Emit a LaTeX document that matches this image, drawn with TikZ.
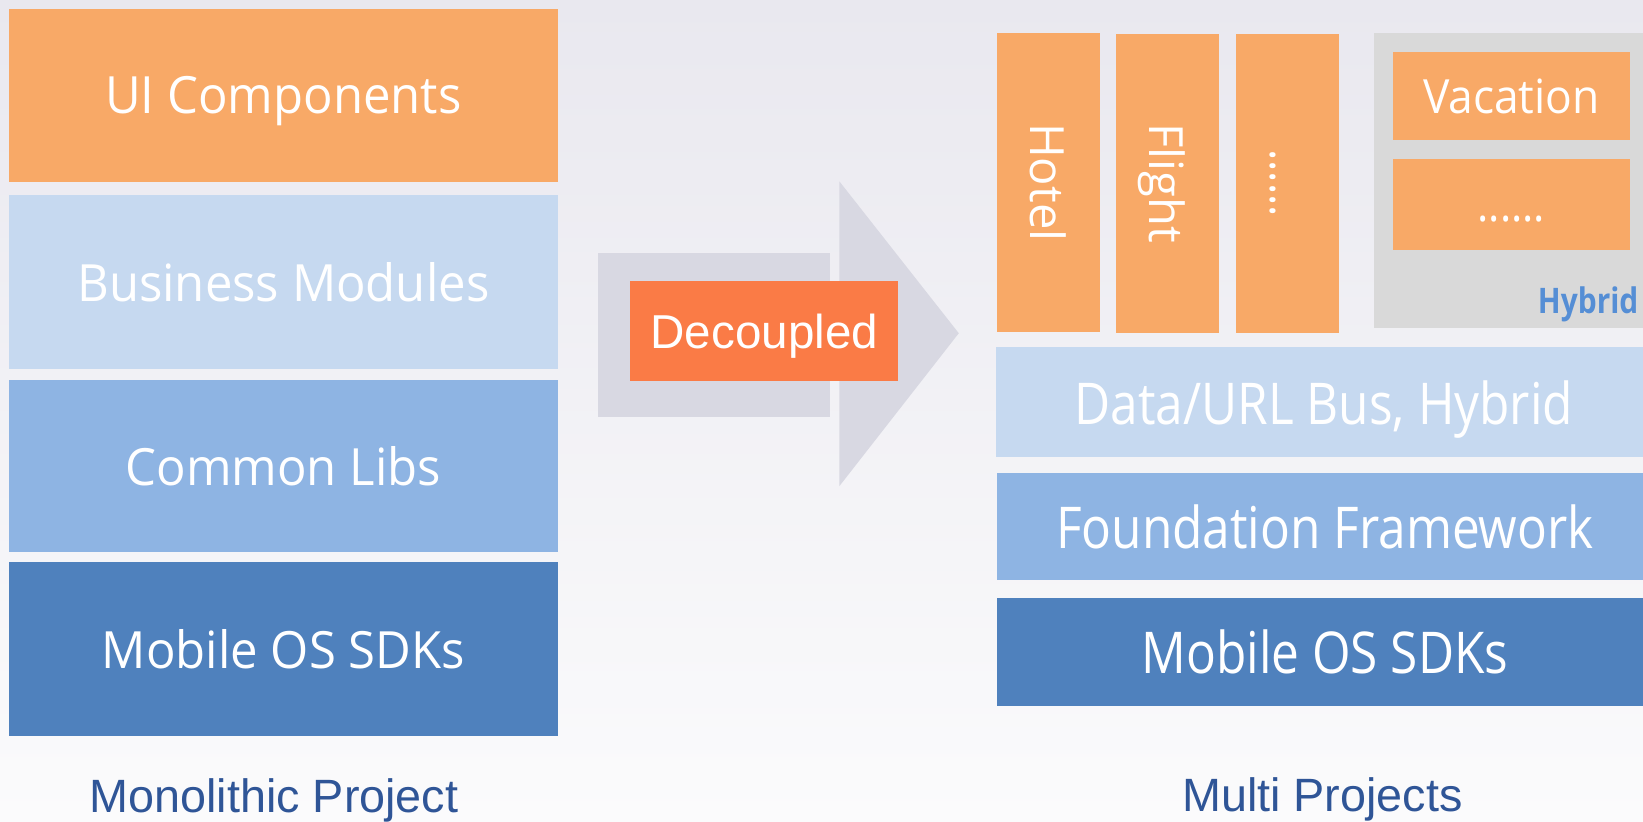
\documentclass[tikz,border=0pt]{standalone}
\usepackage{fontspec}
\setmainfont{Open Sans}
\newfontfamily\arialfont{Liberation Sans}
\usepackage{graphicx}
\definecolor{uiorange}{RGB}{248,169,103}
\definecolor{paleblue}{RGB}{198,217,240}
\definecolor{midblue}{RGB}{142,180,227}
\definecolor{deepblue}{RGB}{79,129,189}
\definecolor{arrowgray}{RGB}{216,216,226}
\definecolor{decorange}{RGB}{250,123,70}
\definecolor{hybridgray}{RGB}{217,217,217}
\definecolor{hybridblue}{RGB}{85,142,213}
\definecolor{titleblue}{RGB}{47,85,151}
\definecolor{bgtop}{RGB}{233,232,239}
\definecolor{bgbot}{RGB}{251,251,252}
\newcommand{\narrow}[2][0.86]{\scalebox{#1}[1]{#2}}

\begin{document}
\begin{tikzpicture}[x=0.5pt,y=-0.5pt,
    layer/.style={inner sep=0pt,text depth=0pt,anchor=north west,text=white,font=\fontsize{24.5}{28}\selectfont},
    wide/.style={layer,minimum width=262pt},
    stack/.style={layer,minimum width=313pt,font=\fontsize{27.5}{32}\selectfont},
    column/.style={layer,minimum width=49pt,minimum height=142.5pt,fill=uiorange},
    vtext/.style={rotate=-90,text=white,text depth=0pt,font=\fontsize{22.5}{26}\selectfont},
    tile/.style={layer,minimum width=113pt,fill=uiorange,font=\fontsize{22.5}{26}\selectfont},
    caption/.style={anchor=base,text=titleblue,font=\arialfont\fontsize{22.3}{26}\selectfont}]
    \useasboundingbox (0,0) rectangle (1568,784);
    \shade[top color=bgtop,bottom color=bgbot] (0,0) rectangle (1568,784);
    % monolithic
    \node[wide,fill=uiorange,minimum height=82.5pt] (ui) at (8,8) {\narrow[0.955]{UI Components}};
    \node[wide,fill=paleblue,minimum height=83pt] (biz) at (8,186) {\narrow[0.955]{Business Modules}};
    \node[wide,fill=midblue,minimum height=82pt] (libs) at (8,362) {\narrow[0.955]{Common Libs}};
    \node[wide,fill=deepblue,minimum height=83pt] (sdk) at (8,536) {\narrow[0.955]{Mobile OS SDKs}};
    \node[caption] (mono) at (261.5,775) {Monolithic Project};
    % arrow
    \fill[arrowgray] (571,241) rectangle (792,398);
    \fill[arrowgray] (801,173) -- (915,318) -- (801,464) -- cycle;
    \node[layer,fill=decorange,minimum width=128pt,minimum height=47.5pt,font=\arialfont\fontsize{22.7}{26}\selectfont] (dec) at (601,268) {Decoupled};
    % multi projects
    \node[column] (hotel) at (951,31) {};
    \node[vtext] at (hotel.center) {Hotel};
    \node[column] (flight) at (1065,32) {};
    \node[vtext] at (flight.center) {Flight};
    \node[column] (more) at (1179,32) {};
    \node[vtext] at (more.center) {\narrow[0.9]{......}\vphantom{H}};
    \node[layer,fill=hybridgray,minimum width=132pt,minimum height=141pt] (hyb) at (1311,31) {};
    \node[tile,minimum height=42pt] (vac) at (1329,49) {\narrow[0.94]{Vacation}};
    \node[tile,minimum height=43.5pt] (etc) at (1329,151) {\narrow[0.9]{......}\vphantom{H}};
    \node[anchor=base east,inner sep=0pt,text=hybridblue,font=\bfseries\fontsize{16.8}{20}\selectfont] (hyblbl) at (1564,299) {\narrow[0.85]{Hybrid}};
    \node[stack,fill=paleblue,minimum height=52.5pt] (bus) at (950,331) {\narrow{Data/URL Bus, Hybrid}};
    \node[stack,fill=midblue,minimum height=51pt] (fwk) at (951,451) {\narrow{Foundation Framework}};
    \node[stack,fill=deepblue,minimum height=51.5pt] (sdk2) at (951,570) {\narrow{Mobile OS SDKs}};
    \node[caption] (multi) at (1262,774) {Multi Projects};
\end{tikzpicture}
\end{document}
